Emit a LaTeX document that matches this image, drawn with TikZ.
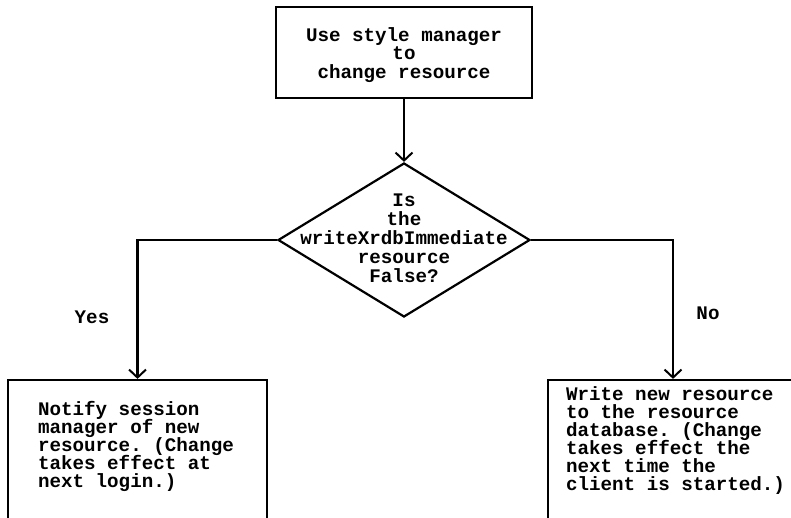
\documentclass[tikz,border=0pt]{standalone}
\usepackage{fontspec}
\setmonofont{Liberation Mono}
\usepackage{tikz}
\usetikzlibrary{arrows.meta,shapes.geometric}
\newcommand\tightlines{\lineskiplimit=-100pt\relax}

\begin{document}
\begin{tikzpicture}[x=1pt,y=-1pt,->,>={Straight Barb[length=8pt,width=17pt,line width=2pt]},
                    line width=2.2pt]
  \tikzstyle{every node}=[font=\fontsize{19.2}{18.5}\selectfont\ttfamily\bfseries\tightlines]
  \tikzstyle{box}=[draw,rectangle,inner sep=0pt]
  \tikzstyle{boxtext}=[inner sep=0pt,anchor=west,align=left,font=\fontsize{19.2}{18}\selectfont\ttfamily\bfseries\tightlines]
  \useasboundingbox (0,0) rectangle (791,518);

  \node[box, minimum width=256pt, minimum height=91pt] (style) at (404,52.5) {};
  \node[align=center, inner sep=0pt] (styletext) at (404,55) {Use style manager\\to\\change resource};
  \node[draw, diamond, inner sep=0pt, minimum width=252pt, minimum height=154pt] (check) at (404,240) {};
  \node[align=center, inner sep=0pt, font=\fontsize{19.2}{19}\selectfont\ttfamily\bfseries\tightlines] (checktext) at (404,238) {Is\\the\\writeXrdbImmediate\\resource\\False?};

  \node[box, minimum width=259pt, minimum height=180pt] (notify) at (137.5,470) {};
  \node[boxtext] (notifytext) at (37,446) {Notify session\\manager of new\\resource. (Change\\takes effect at\\next login.)};
  \node[box, minimum width=250pt, minimum height=180pt] (write) at (673,470) {};
  \node[boxtext] (writetext) at (565,441) {Write new resource\\to the resource\\database. (Change\\takes effect the\\next time the\\client is started.)};

  \node (yes) at (92,317) {Yes};
  \node (no) at (708,313) {No};

  \draw (style) -- (check);
  \draw (check.west) -| (notify);
  \draw (check.east) -| (write);
\end{tikzpicture}
\end{document}
